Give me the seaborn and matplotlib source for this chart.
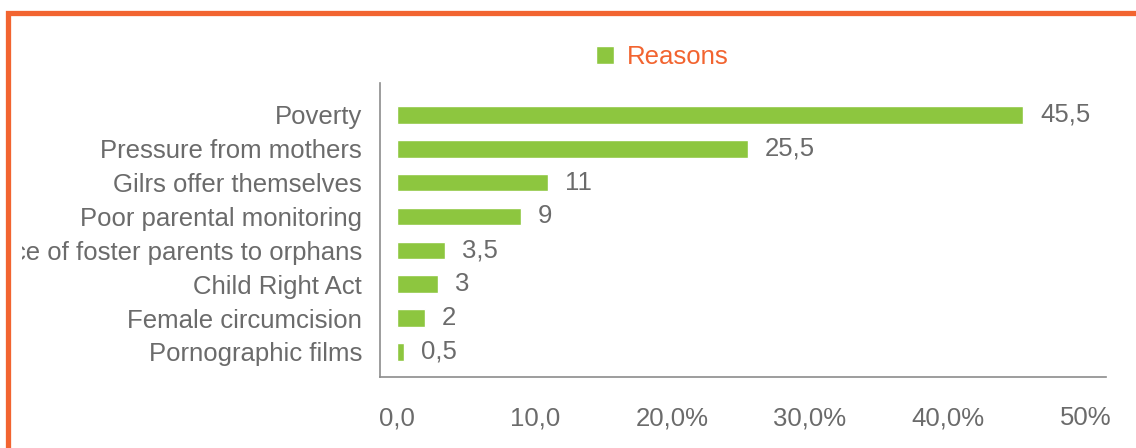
import matplotlib
matplotlib.use("Agg")
import matplotlib.pyplot as plt
from matplotlib.patches import Rectangle
from matplotlib.transforms import Bbox, TransformedBbox
import seaborn as sns
import pandas as pd

# Reasons and their shares
reasons = [
    "Poverty",
    "Pressure from mothers",
    "Gilrs offer themselves",
    "Poor parental monitoring",
    "Negligence of foster parents to orphans",
    "Child Right Act",
    "Female circumcision",
    "Pornographic films",
]
shares = [45.5, 25.5, 11, 9, 3.5, 3, 2, 0.5]
value_labels = ["45,5", "25,5", "11", "9", "3,5", "3", "2", "0,5"]
tick_values = [0, 10, 20, 30, 40, 50]
tick_labels = ["0,0", "10,0", "20,0%", "30,0%", "40,0%", "50%"]
series_name = "Reasons"

GREEN = "#8DC63F"
ORANGE = "#F26430"
TEXT = "#6B6B6B"
AXIS = "#8C8C8C"
FS = 18.5

sns.set_theme(style="white")
plt.rcParams["font.family"] = ["Liberation Sans", "DejaVu Sans"]

W, H = 1136, 448
fig = plt.figure(figsize=(W / 100, H / 100), dpi=100)
ax = fig.add_axes([380 / W, (H - 377) / H, (1106 - 380) / W, (377 - 83) / H])

df = pd.DataFrame({"reason": reasons, "share": shares})
sns.barplot(data=df, y="reason", x="share", orient="h", color=GREEN,
            width=0.52, saturation=1, ax=ax, label=series_name)

ax.set_xlim(-1.24, 51.5)
ax.set_ylim(7.74, -0.94)

ax.bar_label(ax.containers[0], labels=value_labels, padding=12,
             fontsize=FS, color=TEXT)

ax.set_xticks(tick_values)
ax.set_xticklabels(tick_labels)
ax.tick_params(axis="x", length=0, pad=21, labelsize=FS, labelcolor=TEXT)
ax.tick_params(axis="y", length=0, pad=13, labelsize=FS, labelcolor=TEXT)
ax.set_xlabel("")
ax.set_ylabel("")

for side in ("top", "right"):
    ax.spines[side].set_visible(False)
for side in ("left", "bottom"):
    ax.spines[side].set_color(AXIS)
    ax.spines[side].set_linewidth(1.2)

# long category names are cut off at the inner edge of the frame
clip = TransformedBbox(Bbox.from_extents(22 / W, 0, 1, 1), fig.transFigure)
for lbl in ax.get_yticklabels():
    lbl.set_clip_on(True)
    lbl.set_clip_box(clip)

leg = ax.legend(loc="center left", bbox_to_anchor=(583 / W, 1 - 57 / H),
                bbox_transform=fig.transFigure, frameon=False,
                handlelength=0.7, handleheight=0.7, handletextpad=0.5,
                borderpad=0, fontsize=FS)
for t in leg.get_texts():
    t.set_color(ORANGE)

# orange frame around the chart
fig.add_artist(Rectangle((7.5 / W, -0.2), 1.5, 1.2 - 12.5 / H,
                         transform=fig.transFigure, fill=False,
                         edgecolor=ORANGE, linewidth=3.8, clip_on=False))

fig.savefig("out.png", dpi=100)
